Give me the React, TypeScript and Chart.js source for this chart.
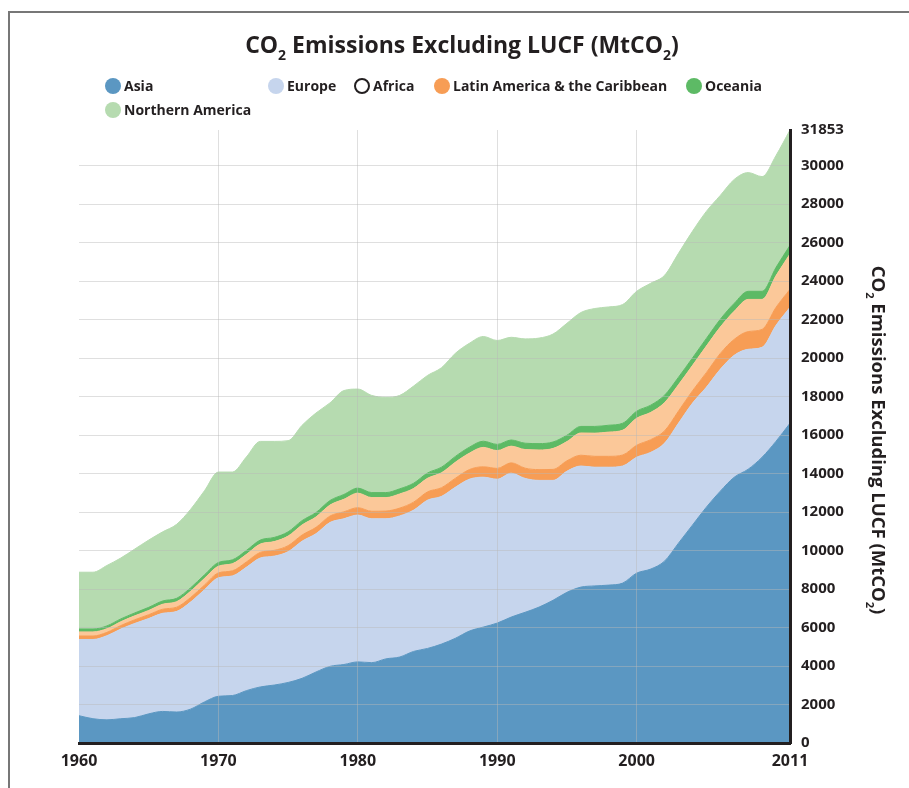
import React, { useEffect, useRef } from "react";
import { Chart, registerables } from "chart.js";

Chart.register(...registerables);

// ---- data (MtCO2) ----
const years = [
  1960, 1961, 1962, 1963, 1964, 1965, 1966, 1967, 1968, 1969,
  1970, 1971, 1972, 1973, 1974, 1975, 1976, 1977, 1978, 1979,
  1980, 1981, 1982, 1983, 1984, 1985, 1986, 1987, 1988, 1989,
  1990, 1991, 1992, 1993, 1994, 1995, 1996, 1997, 1998, 1999,
  2000, 2001, 2002, 2003, 2004, 2005, 2006, 2007, 2008, 2009,
  2010, 2011,
];
const asia = [
  1418, 1262, 1204, 1262, 1321, 1515, 1640, 1610, 1760, 2136,
  2428, 2466, 2719, 2913, 3010, 3146, 3360, 3690, 3981, 4078,
  4214, 4175, 4370, 4467, 4758, 4913, 5140, 5442, 5816, 6023,
  6231, 6543, 6792, 7062, 7415, 7830, 8100, 8163, 8204, 8308,
  8827, 9035, 9450, 10385, 11320, 12254, 13085, 13812, 14227, 14851,
  15681, 16616,
];
const europe = [
  3961, 4117, 4370, 4661, 4893, 4952, 5099, 5226, 5561, 5826,
  6156, 6215, 6408, 6700, 6700, 6797, 7127, 7185, 7477, 7574,
  7632, 7475, 7282, 7333, 7342, 7707, 7675, 7851, 7892, 7789,
  7477, 7477, 6958, 6584, 6231, 6294, 6294, 6168, 6127, 6086,
  6024, 6065, 6128, 6231, 6335, 6231, 6335, 6335, 6231, 5711,
  6024, 6023,
];
const africa = [
  180, 180, 175, 180, 190, 200, 210, 220, 235, 245,
  255, 265, 275, 290, 300, 310, 320, 330, 335, 360,
  380, 390, 400, 405, 415, 430, 450, 465, 500, 540,
  560, 540, 530, 560, 570, 540, 560, 565, 565, 570,
  620, 660, 640, 630, 640, 760, 820, 830, 920, 930,
  935, 935,
];
const latinAmerica = [
  214, 214, 190, 200, 205, 222, 261, 285, 323, 347,
  346, 370, 394, 432, 456, 499, 523, 540, 570, 652,
  758, 711, 699, 736, 712, 705, 776, 834, 852, 1009,
  927, 864, 968, 1021, 1089, 999, 1156, 1204, 1261, 1292,
  1403, 1416, 1467, 1374, 1317, 1379, 1371, 1460, 1672, 1558,
  1646, 1835,
];
const oceania = [
  150, 150, 145, 145, 150, 160, 170, 175, 180, 185,
  195, 200, 205, 210, 215, 220, 225, 230, 235, 250,
  260, 260, 260, 265, 270, 275, 290, 300, 310, 320,
  320, 320, 330, 330, 335, 330, 340, 350, 355, 360,
  365, 375, 385, 385, 390, 395, 405, 410, 420, 420,
  430, 450,
];
const northernAmerica = [
  2952, 2952, 3140, 3165, 3320, 3496, 3592, 3845, 4079, 4370,
  4700, 4564, 4855, 5127, 4991, 4738, 4952, 5173, 5074, 5399,
  5147, 5050, 4953, 4855, 5049, 5070, 5169, 5359, 5400, 5442,
  5400, 5338, 5420, 5483, 5608, 5816, 5919, 6127, 6148, 6169,
  6231, 6335, 6231, 6438, 6584, 6605, 6439, 6439, 6169, 5961,
  5816, 5994,
];

const seriesNames = [
  "Asia",
  "Europe",
  "Africa",
  "Latin America & the Caribbean",
  "Oceania",
  "Northern America",
];
const seriesValues = [asia, europe, africa, latinAmerica, oceania, northernAmerica];
const areaColors = ["#5b97c2", "#c6d5ed", "#f79d55", "#fbc899", "#5dba65", "#b6dbb0"];
const legendFill = ["#5b97c2", "#c6d5ed", "#ffffff", "#f79d55", "#5dba65", "#b6dbb0"];
const legendStroke = [null, null, "#231f20", null, null, null];

const xTicks = [1960, 1970, 1980, 1990, 2000, 2011];
const yTicks = [
  0, 2000, 4000, 6000, 8000, 10000, 12000, 14000, 16000,
  18000, 20000, 22000, 24000, 26000, 28000, 30000, 31853,
];

const titleParts = [
  { t: "CO" },
  { t: "2", sub: true },
  { t: " Emissions Excluding LUCF (MtCO" },
  { t: "2", sub: true },
  { t: ")" },
];

const TEXT = "#231f20";
const GRID = "rgba(185,185,185,0.45)";
const SANS = '"Open Sans", sans-serif';

function drawRich(ctx: CanvasRenderingContext2D, parts: any[], x: number, y: number, size: number, family: string) {
  const main = `bold ${size}px ${family}`;
  const sub = `bold ${Math.round(size * 0.62)}px ${family}`;
  const widths = parts.map((p) => {
    ctx.font = p.sub ? sub : main;
    return ctx.measureText(p.t).width;
  });
  const total = widths.reduce((a, b) => a + b, 0);
  let cx = x - total / 2;
  ctx.textAlign = "left";
  ctx.textBaseline = "alphabetic";
  parts.forEach((p, i) => {
    ctx.font = p.sub ? sub : main;
    ctx.fillText(p.t, cx, y + (p.sub ? size * 0.3 : 0));
    cx += widths[i];
  });
}

const legendLayout = [
  { cx: 113, cy: 86 },
  { cx: 276, cy: 86 },
  { cx: 362, cy: 86 },
  { cx: 442, cy: 86 },
  { cx: 694, cy: 86 },
  { cx: 113, cy: 110 },
];

const decorPlugin = {
  id: "decor",
  afterDraw(chart: any) {
    const ctx: CanvasRenderingContext2D = chart.ctx;
    ctx.save();
    ctx.fillStyle = TEXT;
    // title
    drawRich(ctx, titleParts, 462, 53, 23, SANS);
    // legend
    seriesNames.forEach((name, i) => {
      const { cx, cy } = legendLayout[i];
      ctx.beginPath();
      ctx.arc(cx, cy, legendStroke[i] ? 7 : 8, 0, Math.PI * 2);
      ctx.fillStyle = legendFill[i];
      ctx.fill();
      if (legendStroke[i]) {
        ctx.lineWidth = 2;
        ctx.strokeStyle = legendStroke[i] as string;
        ctx.stroke();
      }
      ctx.fillStyle = TEXT;
      ctx.font = `bold 14px ${SANS}`;
      ctx.textAlign = "left";
      ctx.textBaseline = "middle";
      ctx.fillText(name, cx + 11, cy + 1);
    });
    // y-axis title (rotated clockwise)
    ctx.translate(872, 440);
    ctx.rotate(Math.PI / 2);
    ctx.fillStyle = TEXT;
    drawRich(ctx, titleParts, 0, 0, 18.5, SANS);
    ctx.restore();
  },
};

export default function App() {
  const ref = useRef<HTMLCanvasElement | null>(null);
  useEffect(() => {
    if (!ref.current) return;
    const datasets = seriesNames.map((name, i) => ({
      label: name,
      data: years.map((y, j) => ({ x: y, y: seriesValues[i][j] })),
      backgroundColor: areaColors[i],
      borderColor: areaColors[i],
      borderWidth: 1,
      pointRadius: 0,
      fill: i === 0 ? "origin" : "-1",
      cubicInterpolationMode: "monotone" as const,
    }));
    const chart = new Chart(ref.current, {
      type: "line",
      data: { datasets },
      plugins: [decorPlugin],
      options: {
        animation: false,
        responsive: false,
        layout: { padding: { top: 130, left: 79, right: 0, bottom: 0 } },
        plugins: { legend: { display: false }, title: { display: false }, tooltip: { enabled: false } },
        elements: { line: { tension: 0.3 } },
        scales: {
          x: {
            type: "linear",
            min: 1960,
            max: 2011,
            afterBuildTicks: (s: any) => {
              s.ticks = xTicks.map((v) => ({ value: v }));
            },
            afterFit: (s: any) => {
              s.height = 45;
            },
            ticks: {
              autoSkip: false,
              maxRotation: 0,
              padding: 9,
              color: TEXT,
              font: { family: SANS, size: 16, weight: "bold" },
              callback: (v: any) => String(v),
            },
            grid: {
              z: 1,
              drawTicks: false,
              color: (c: any) =>
                c.tick && (c.tick.value === 1960 || c.tick.value === 2011) ? "rgba(0,0,0,0)" : GRID,
              lineWidth: 1,
            },
            border: { display: true, color: TEXT, width: 3, z: 2 },
          },
          y: {
            type: "linear",
            position: "right",
            stacked: true,
            min: 0,
            max: 31853,
            afterBuildTicks: (s: any) => {
              s.ticks = yTicks.map((v) => ({ value: v }));
            },
            afterFit: (s: any) => {
              s.width = 119;
            },
            ticks: {
              padding: 11,
              color: TEXT,
              font: { family: SANS, size: 15, weight: "bold" },
              callback: (v: any) => String(v),
            },
            grid: {
              z: 1,
              drawTicks: false,
              color: (c: any) =>
                c.tick && (c.tick.value === 0 || c.tick.value === 31853) ? "rgba(0,0,0,0)" : GRID,
              lineWidth: 1,
            },
            border: { display: true, color: TEXT, width: 3, z: 2 },
          },
        },
      } as any,
    });
    return () => chart.destroy();
  }, []);

  return (
    <div>
      <div
        style={{
          position: "fixed",
          left: 8,
          top: 11,
          right: 0,
          bottom: 0,
          borderLeft: "2px solid #777",
          borderTop: "2px solid #777",
          pointerEvents: "none",
        }}
      />
      <canvas
        ref={ref}
        width={909}
        height={788}
        style={{ position: "fixed", left: 0, top: 0, width: 909, height: 788, display: "block" }}
      />
    </div>
  );
}
